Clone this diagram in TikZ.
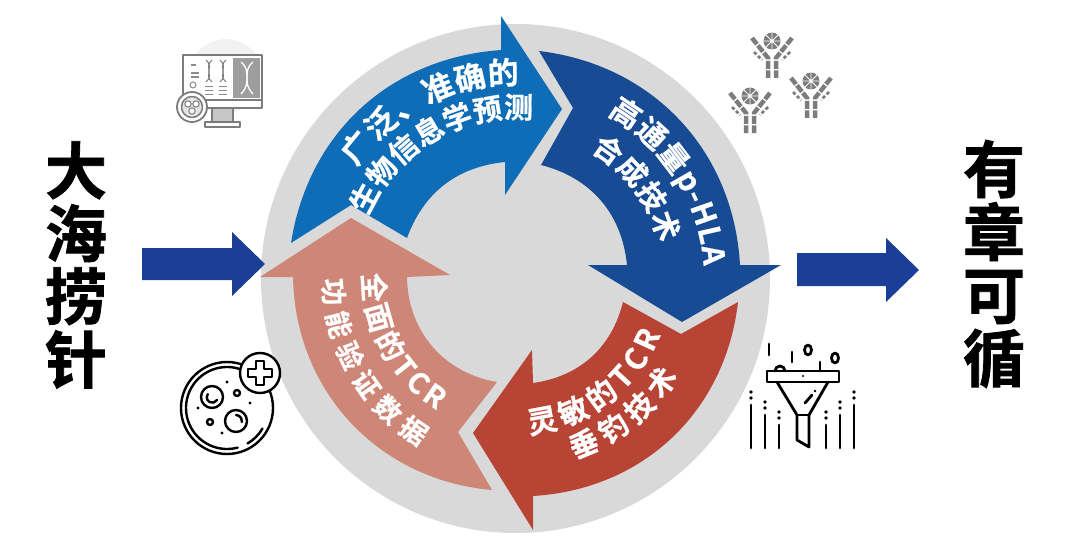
\documentclass[tikz,border=0pt]{standalone}
\usepackage{fontspec}
\usetikzlibrary{decorations.text}
\newfontfamily\cjk[FakeBold=0.6]{Noto Sans CJK SC Bold}
\newfontfamily\cjkheavy[FakeBold=1.2]{Noto Sans CJK SC Bold}
\definecolor{ring}{HTML}{D9D9D9}
\definecolor{bluea}{HTML}{0E6DB6}
\definecolor{blueb}{HTML}{174B94}
\definecolor{reda}{HTML}{B84435}
\definecolor{pinka}{HTML}{CE8677}
\definecolor{navy}{HTML}{1B3E98}
\definecolor{icong}{HTML}{7C7C7C}
% curved white label: font size, start angle, end angle, radius, text (angles clockwise on screen)
\newcommand{\curvelabel}[5]{%
  \path[shift={(516,279)},decorate,decoration={text along path,text color=white,text align=fit to path,
    text={|\cjk\fontsize{#1}{#1}\selectfont|#5}}]
    (#2:#4) arc[start angle=#2,end angle=#3,radius=#4];
}
\tikzset{
  x=1pt,y=-1pt,
  sidetext/.style={font=\cjkheavy\fontsize{62}{63}\selectfont,align=center,inner sep=0pt,text=black},
  bigarrow/.style={fill=navy,draw=none},
  iconline/.style={draw=black,line width=2.4pt,line cap=round,line join=round},
  funline/.style={draw=black,line width=2.8pt,line cap=round,line join=round},
  compline/.style={draw=icong,line width=1.5pt,line join=round},
  ablimb/.style={draw=icong,line width=4.5pt,dash pattern=on 8pt off 1.5pt},
  abthin/.style={draw=icong,line width=2.6pt,dash pattern=on 3.5pt off 2pt},
  antibody/.pic={
    \fill[icong] (0,0) circle[radius=8.5];
    \draw[white,line width=0.9pt] (-6,-6)--(6,6) (6,-6)--(-6,6) (0,-8.5)--(0,8.5) (-8.5,0)--(8.5,0);
    \draw[ablimb] (-20,-3) -- (-4,17) -- (-4,37);
    \draw[ablimb] (20,-3) -- (4,17) -- (4,37);
    \draw[abthin] (-18,11) -- (-10,19);
    \draw[abthin] (18,11) -- (10,19);
  }
}
\begin{document}
\begin{tikzpicture}
\useasboundingbox (0,0) rectangle (1080,551);
% ring disc
\fill[ring] (515.5,278.5) circle[radius=254.5];
% cycle arrows
\fill[pinka] (492,490) to[bend left=42] (293,277) -- (260,277) -- (351,218) -- (450,275) -- (407,277)
  to[bend right=40] (497,382) -- (458,432) -- cycle;
\fill[bluea] (291,243) to[bend left=38.5] (501,50) -- (501,16) -- (562,109) -- (505,195) -- (505,162)
  to[bend right=32] (407,238) -- (351,205) -- cycle;
\fill[blueb] (539,51) to[bend left=40] (740,265) -- (781,265) -- (682,322) -- (588,265) -- (627,265)
  to[bend right=35] (541,165) -- (573,108) -- cycle;
\fill[reda] (738,302) to[bend left=40] (533,496) -- (533,530) -- (473,433) -- (532,350) -- (533,383)
  to[bend right=34] (623,302) -- (681,334) -- cycle;
% labels on the arrows
\curvelabel{31}{215}{271}{195}{广泛、准确的}
\curvelabel{29}{203}{276}{161}{生物信息学预测}
\curvelabel{30}{-61}{-4}{188}{高通量p-HLA}
\curvelabel{29}{-60}{-14}{148}{合成技术}
\curvelabel{30}{85}{21}{155}{灵敏的TCR}
\curvelabel{29}{72}{31}{189}{垂钓技术}
\curvelabel{29}{182}{121}{153}{全面的TCR}
\curvelabel{27}{180}{120}{193}{功能验证数据}
% side words and arrows
\node[sidetext] (leftword) at (76,265) {大\\海\\捞\\针};
\node[sidetext] (rightword) at (994,264) {有\\章\\可\\循};
\fill[bigarrow] (142,248) -- (232,248) -- (232,232) -- (265,264) -- (232,296) -- (232,280) -- (142,280) -- cycle;
\fill[bigarrow] (797,253) -- (886,253) -- (886,238) -- (919,270) -- (886,302) -- (886,286) -- (797,286) -- cycle;
% computer icon
\fill[black!5] (226,76) circle[radius=37];
\fill[white] (183,55) rectangle (262,108);
\fill[black!38] (233,58) rectangle (260,98);
\draw[compline] (183,55) rectangle (262,108);
\draw[compline] (183,100) -- (262,100);
\draw[compline,fill=black!22] (212,108) rectangle (233,122);
\draw[compline,fill=white] (205,122) rectangle (240,127);
\draw[white,line width=1.3pt] (241,62) .. controls (253,72) and (241,82) .. (253,94);
\draw[white,line width=1.3pt] (253,62) .. controls (241,72) and (253,82) .. (241,94);
\foreach \i/\xx in {1/209,2/223}{
  \draw[black!50,line width=1pt] (\xx-3,60) .. controls (\xx+6,68) and (\xx-6,74) .. (\xx+3,82);
  \draw[black!50,line width=1pt] (\xx+3,60) .. controls (\xx-6,68) and (\xx+6,74) .. (\xx-3,82);
  \draw[black!45,line width=1pt] (\xx-4,87) -- (\xx+4,87) (\xx-4,91) -- (\xx+4,91) (\xx-4,95) -- (\xx+4,95);
}
\draw[black!45,line width=1.4pt] (191,65) -- (196,65) (191,73) -- (199,73) (191,77) -- (199,77);
\draw[black!45,line width=1pt] (193,85) circle[radius=3];
\draw[compline,fill=white,line width=1.8pt] (192,107) circle[radius=15];
\draw[compline,fill=black!10] (192,107) circle[radius=10.5];
\foreach \px/\py in {188/104,196/104,192/111}{\draw[icong,line width=1pt,fill=white] (\px,\py) circle[radius=3.2];}
% petri dish icon
\draw[iconline] (227,408) circle[radius=46];
\draw[iconline] (75:41) ++(227,408) arc[start angle=75,end angle=325,radius=41];
\draw[iconline] (30:41) ++(227,408) arc[start angle=30,end angle=60,radius=41];
\draw[iconline,fill=white] (260,373) circle[radius=20];
\draw[iconline] (256,361) -- (264,361) -- (264,369) -- (272,369) -- (272,377) -- (264,377) -- (264,385) -- (256,385) -- (256,377) -- (248,377) -- (248,369) -- (256,369) -- cycle;
\draw[iconline] (212,397) circle[radius=11];
\draw[iconline] (217,400) arc[start angle=30,end angle=215,radius=5.5];
\draw[iconline] (236,421) circle[radius=11];
\draw[iconline] (236,415) arc[start angle=-90,end angle=10,radius=6];
\draw[iconline] (237,393) circle[radius=3] (210,422) circle[radius=3];
\foreach \px/\py in {227/382,198/408,250/403,222/433}{\fill (\px,\py) circle[radius=1.6];}
% antibody icons
\pic at (772,41) {antibody};
\pic at (811,81) {antibody};
\pic at (750,96) {antibody};
% funnel icon
\draw[funline] (767,371) rectangle (839,382);
\draw[funline] (777,382) -- (797,415) -- (797,440) -- (809,447) -- (809,415) -- (828,382);
\draw[funline] (797,415) -- (809,415);
\draw[funline] (805,403) -- (812,395);
\fill (815,391) circle[radius=1.4] (803,376) circle[radius=1.2];
\draw[funline] (769,344) -- (769,355) (792,352) -- (792,362) (820,362) -- (820,371);
\draw[funline] (808,350) ellipse[x radius=3.5,y radius=5];
\draw[funline] (835,358) ellipse[x radius=3.5,y radius=5];
\draw[funline] (775,371) arc[start angle=180,end angle=360,radius=5];
\foreach \xx/\top in {751/405,765/415,779/425,826/425,840/415,854/405}{
  \draw[funline] (\xx,\top) -- (\xx,448);
  \fill (\xx,\top-13) circle[radius=1.9] (\xx,\top-7) circle[radius=1.9];
}
\end{tikzpicture}
\end{document}
